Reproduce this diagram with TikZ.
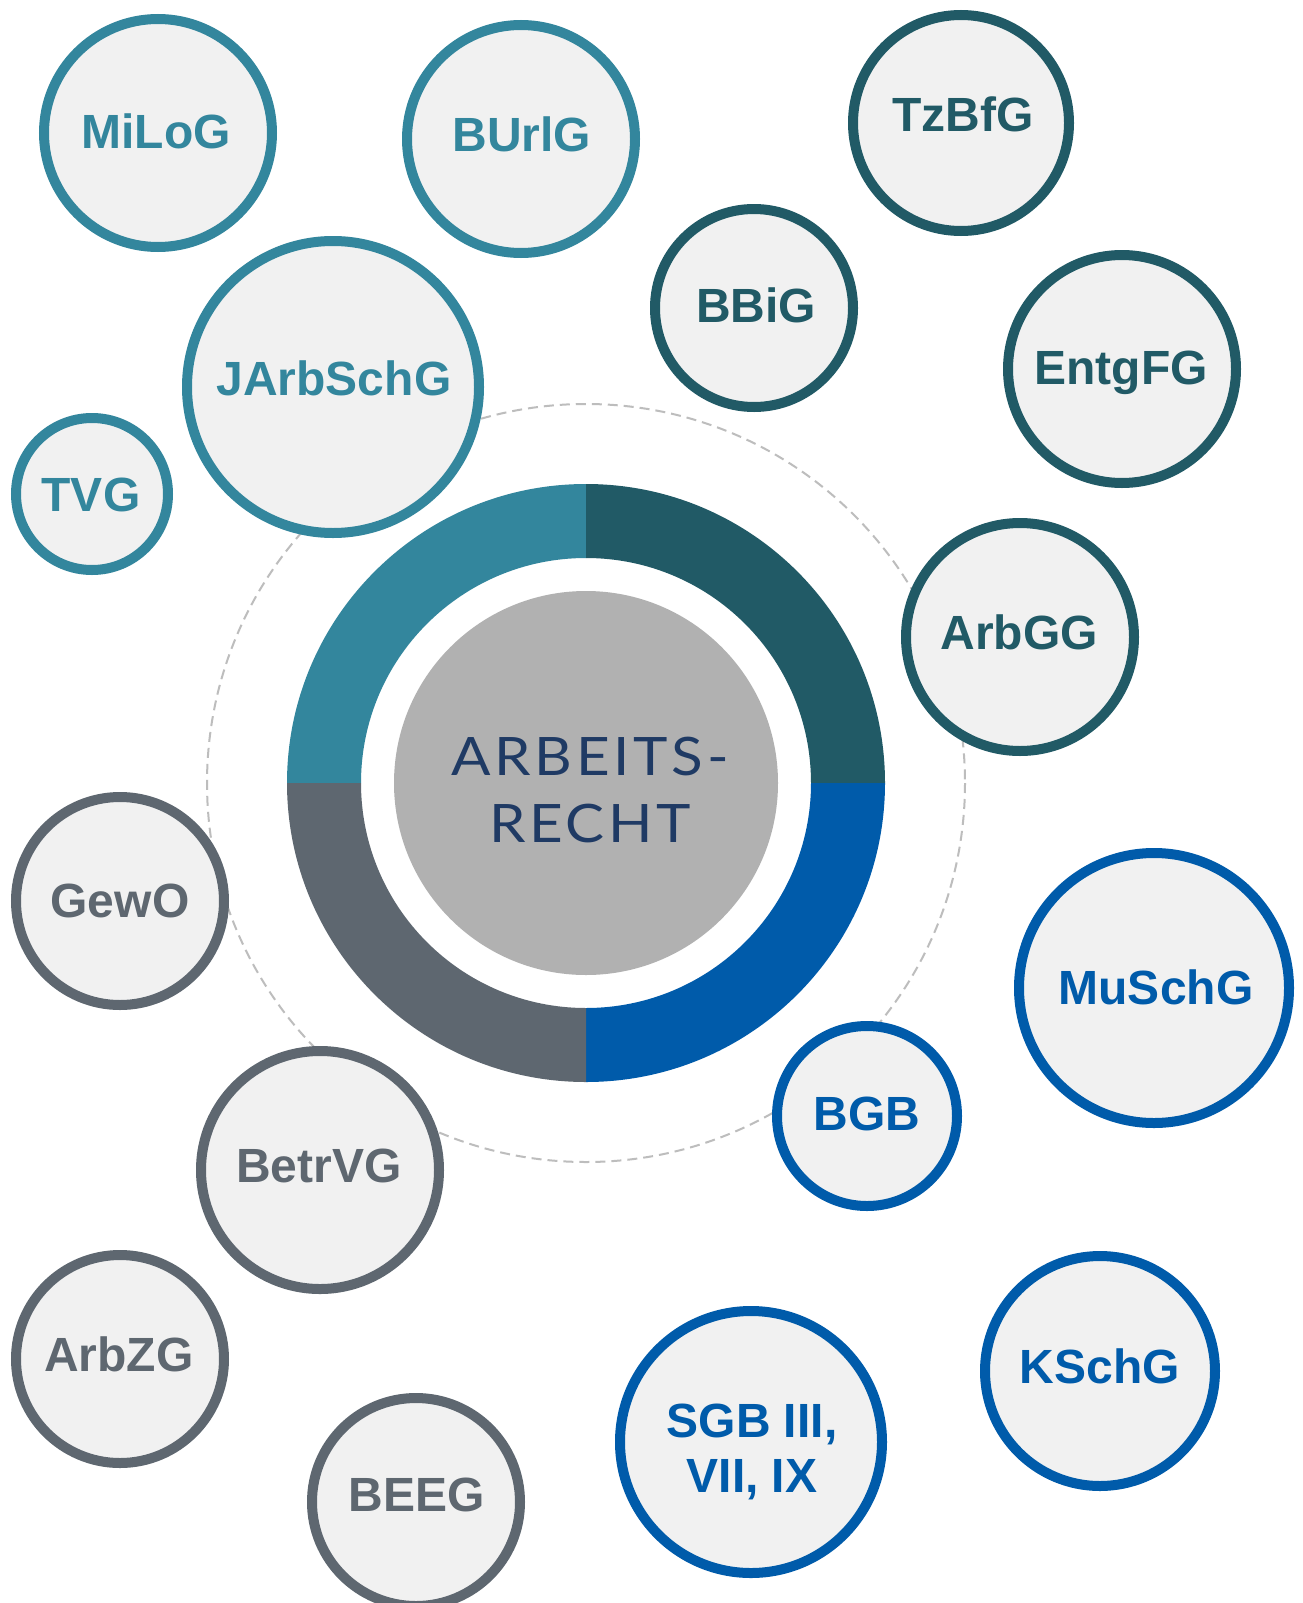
\documentclass[tikz,border=0pt]{standalone}
\usepackage{fontspec}
\setmainfont{Liberation Sans}
\newfontfamily\centerfont[LetterSpace=7,FakeStretch=1.1]{Lato}
\definecolor{cteal}{HTML}{33869D}
\definecolor{cdark}{HTML}{215A66}
\definecolor{cgray}{HTML}{5E6770}
\definecolor{cblue}{HTML}{005BAA}
\definecolor{cfill}{HTML}{F1F1F1}
\definecolor{cdisk}{HTML}{B1B1B1}
\definecolor{cdash}{HTML}{BDBDBD}
\definecolor{cnavy}{HTML}{1F3A64}
\tikzset{
  lawcircle/.style={circle, draw=#1, line width=10pt, fill=cfill, inner sep=0pt},
  lawtext/.style={anchor=base, inner sep=0pt, text=#1, font=\fontsize{48}{55}\selectfont\bfseries},
  coretext/.style={anchor=base, inner sep=0pt, text=cnavy, font=\fontsize{53}{67}\selectfont\centerfont}
}
\begin{document}
\begin{tikzpicture}[x=1pt,y=-1pt]
\useasboundingbox (0,0) rectangle (1302,1603);
\fill[white] (0,0) rectangle (1302,1603);
% dashed orbit
\draw[cdash, line width=2pt, dash pattern=on 10pt off 6pt] (586,783) circle[radius=379];
% ring
\begin{scope}[shift={(586,783)}]
  \fill[cteal] (180:299) arc[start angle=180,end angle=270,radius=299] -- (270:225) arc[start angle=270,end angle=180,radius=225] -- cycle;
  \fill[cdark] (270:299) arc[start angle=270,end angle=360,radius=299] -- (0:225) arc[start angle=360,end angle=270,radius=225] -- cycle;
  \fill[cblue] (0:299) arc[start angle=0,end angle=90,radius=299] -- (90:225) arc[start angle=90,end angle=0,radius=225] -- cycle;
  \fill[cgray] (90:299) arc[start angle=90,end angle=180,radius=299] -- (180:225) arc[start angle=180,end angle=90,radius=225] -- cycle;
\end{scope}
\node[circle, fill=cdisk, minimum size=384pt, inner sep=0pt] (core) at (586,783) {};
\node[coretext] (core1) at (590,775) {ARBEITS-};
\node[coretext] (core2) at (590,842) {RECHT};
% law circles
\node[lawcircle=cteal, minimum size=228pt] (milog) at (158,133) {};
\node[lawtext=cteal] (milogt) at (156,148) {MiLoG};
\node[lawcircle=cteal, minimum size=228pt] (burlg) at (521,139) {};
\node[lawtext=cteal] (burlgt) at (522,151) {BUrlG};
\node[lawcircle=cdark, minimum size=216pt] (tzbfg) at (961,123) {};
\node[lawtext=cdark] (tzbfgt) at (963,131) {TzBfG};
\node[lawcircle=cdark, minimum size=198pt] (bbig) at (754,308) {};
\node[lawtext=cdark] (bbigt) at (756,322) {BBiG};
\node[lawcircle=cdark, minimum size=228pt] (entgfg) at (1122,369) {};
\node[lawtext=cdark] (entgfgt) at (1121,384) {EntgFG};
\node[lawcircle=cteal, minimum size=292pt] (jarb) at (333,387) {};
\node[lawtext=cteal] (jarbt) at (334,395) {JArbSchG};
\node[lawcircle=cteal, minimum size=152pt] (tvg) at (92,494) {};
\node[lawtext=cteal] (tvgt) at (91,511) {TVG};
\node[lawcircle=cdark, minimum size=228pt] (arbgg) at (1020,637) {};
\node[lawtext=cdark] (arbggt) at (1019,649) {ArbGG};
\node[lawcircle=cgray, minimum size=208pt] (gewo) at (120,901) {};
\node[lawtext=cgray] (gewot) at (120,917) {GewO};
\node[lawcircle=cblue, minimum size=270pt] (muschg) at (1154,988) {};
\node[lawtext=cblue] (muschgt) at (1156,1004) {MuSchG};
\node[lawcircle=cblue, minimum size=180pt] (bgb) at (867,1116) {};
\node[lawtext=cblue] (bgbt) at (867,1130) {BGB};
\node[lawcircle=cgray, minimum size=238pt] (betrvg) at (320,1170) {};
\node[lawtext=cgray] (betrvgt) at (319,1182) {BetrVG};
\node[lawcircle=cgray, minimum size=208pt] (arbzg) at (120,1359) {};
\node[lawtext=cgray] (arbzgt) at (119,1371) {ArbZG};
\node[lawcircle=cgray, minimum size=208pt] (beeg) at (416,1502) {};
\node[lawtext=cgray] (beegt) at (417,1511) {BEEG};
\node[lawcircle=cblue, minimum size=262pt] (sgb) at (751,1442) {};
\node[lawtext=cblue] (sgbt1) at (752,1437) {SGB III,};
\node[lawtext=cblue] (sgbt2) at (752,1492) {VII, IX};
\node[lawcircle=cblue, minimum size=230pt] (kschg) at (1100,1371) {};
\node[lawtext=cblue] (kschgt) at (1100,1383) {KSchG};
\end{tikzpicture}
\end{document}
